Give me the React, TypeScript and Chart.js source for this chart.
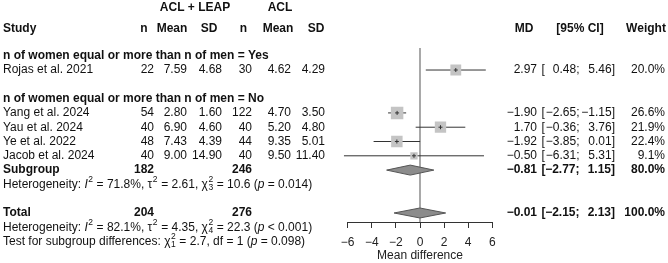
import React, { useEffect, useRef } from "react";
import { Chart, registerables } from "chart.js";

Chart.register(...registerables);

// Individual studies
const studies = ["Rojas et al. 2021", "Yang et al. 2024", "Yau et al. 2024", "Ye et al. 2022", "Jacob et al. 2024"];
const studyRows = [0, 3, 4, 5, 6];
const nExp = [22, 54, 40, 48, 40];
const meanExp = [7.59, 2.8, 6.9, 7.43, 9.0];
const sdExp = [4.68, 1.6, 4.6, 4.39, 14.9];
const nCtl = [30, 122, 40, 44, 40];
const meanCtl = [4.62, 4.7, 5.2, 9.35, 9.5];
const sdCtl = [4.29, 3.5, 4.8, 5.01, 11.4];
const md = [2.97, -1.9, 1.7, -1.92, -0.5];
const ciLow = [0.48, -2.65, -0.36, -3.85, -6.31];
const ciHigh = [5.46, -1.15, 3.76, 0.01, 5.31];
const weights = [20.0, 26.6, 21.9, 22.4, 9.1];

// Pooled estimates (subgroup "No" and overall)
const pooledLabels = ["Subgroup", "Total"];
const pooledRows = [7, 10];
const pooledN1 = [182, 204];
const pooledN2 = [246, 276];
const pooledMD = [-0.81, -0.01];
const pooledLow = [-2.77, -2.15];
const pooledHigh = [1.15, 2.13];
const pooledW = [80.0, 100.0];

// Subgroup headings
const groupLabels = ["n of women equal or more than n of men = Yes", "n of women equal or more than n of men = No"];
const groupRows = [-1, 2];

// Axis ticks
const xTicks = [-6, -4, -2, 0, 2, 4, 6];

const FONT = '"Liberation Sans", Arial, Helvetica, sans-serif';
const FS = 12;
const INK = "#111";

const minus = (s: string) => s.replace(/-/g, "\u2212");
const f2 = (v: number) => minus(v.toFixed(2));

type Seg = { t?: string; it?: boolean; sup?: string; sub?: string };

const het1: Seg[] = [
  { t: "Heterogeneity: " },
  { t: "I", it: true, sup: "2" },
  { t: " = 71.8%, \u03c4", sup: "2" },
  { t: " = 2.61, \u03c7", sup: "2", sub: "3" },
  { t: " = 10.6 (" },
  { t: "p", it: true },
  { t: " = 0.014)" },
];
const het2: Seg[] = [
  { t: "Heterogeneity: " },
  { t: "I", it: true, sup: "2" },
  { t: " = 82.1%, \u03c4", sup: "2" },
  { t: " = 4.35, \u03c7", sup: "2", sub: "4" },
  { t: " = 22.3 (" },
  { t: "p", it: true },
  { t: " < 0.001)" },
];
const testSub: Seg[] = [
  { t: "Test for subgroup differences: \u03c7", sup: "2", sub: "1" },
  { t: " = 2.7, df = 1 (" },
  { t: "p", it: true },
  { t: " = 0.098)" },
];

function drawRich(ctx: CanvasRenderingContext2D, segs: Seg[], x: number, y: number) {
  ctx.textAlign = "left";
  ctx.textBaseline = "middle";
  let cx = x;
  for (const s of segs) {
    if (s.t) {
      ctx.font = `${s.it ? "italic " : ""}${FS}px ${FONT}`;
      ctx.fillText(s.t, cx, y);
      cx += ctx.measureText(s.t).width;
    }
    if (s.sup || s.sub) {
      ctx.font = `8.5px ${FONT}`;
      let w = 0;
      if (s.sup) {
        ctx.fillText(s.sup, cx + 0.5, y - 4.5);
        w = Math.max(w, ctx.measureText(s.sup).width);
      }
      if (s.sub) {
        ctx.fillText(s.sub, cx + 0.5, y + 3.5);
        w = Math.max(w, ctx.measureText(s.sub).width);
      }
      cx += w + 0.8;
    }
  }
}

function text(ctx: CanvasRenderingContext2D, s: string, x: number, y: number, align: CanvasTextAlign, bold = false) {
  ctx.font = `${bold ? "bold " : ""}${FS}px ${FONT}`;
  ctx.textAlign = align;
  ctx.textBaseline = "middle";
  ctx.fillText(s, x, y);
}

// Column anchors (right edges for values)
const COL = {
  study: 3,
  n1: 154, mean1: 187, sd1: 222,
  n2: 252, mean2: 291, sd2: 325,
  md: 537, ciOpen: 541.5, ciMid: 579.5, ciClose: 615, weight: 665,
};

const forestPlugin = {
  id: "forest",
  beforeDatasetsDraw(chart: any) {
    const { ctx, chartArea } = chart;
    const x = chart.scales.x;
    const y = chart.scales.y;
    ctx.save();
    // line of no effect
    const x0 = x.getPixelForValue(0);
    ctx.strokeStyle = "#7a7a7a";
    ctx.lineWidth = 1.3;
    ctx.beginPath();
    ctx.moveTo(x0, chartArea.top);
    ctx.lineTo(x0, chartArea.bottom);
    ctx.stroke();
    // confidence intervals
    ctx.strokeStyle = "#333";
    ctx.lineWidth = 1;
    studies.forEach((_, i) => {
      const py = y.getPixelForValue(studyRows[i]);
      ctx.beginPath();
      ctx.moveTo(x.getPixelForValue(ciLow[i]), py);
      ctx.lineTo(x.getPixelForValue(ciHigh[i]), py);
      ctx.stroke();
    });
    // pooled diamonds
    pooledMD.forEach((m, i) => {
      const py = y.getPixelForValue(pooledRows[i]);
      const h = 5;
      ctx.beginPath();
      ctx.moveTo(x.getPixelForValue(pooledLow[i]), py);
      ctx.lineTo(x.getPixelForValue(m), py - h);
      ctx.lineTo(x.getPixelForValue(pooledHigh[i]), py);
      ctx.lineTo(x.getPixelForValue(m), py + h);
      ctx.closePath();
      ctx.fillStyle = "#8c8c8c";
      ctx.fill();
      ctx.strokeStyle = "#555";
      ctx.lineWidth = 1;
      ctx.stroke();
    });
    ctx.restore();
  },
  afterDatasetsDraw(chart: any) {
    const { ctx } = chart;
    const x = chart.scales.x;
    const y = chart.scales.y;
    ctx.save();
    ctx.strokeStyle = "#333";
    ctx.lineWidth = 1;
    md.forEach((m, i) => {
      const px = x.getPixelForValue(m);
      const py = y.getPixelForValue(studyRows[i]);
      ctx.beginPath();
      ctx.moveTo(px - 2, py);
      ctx.lineTo(px + 2, py);
      ctx.moveTo(px, py - 2);
      ctx.lineTo(px, py + 2);
      ctx.stroke();
    });
    ctx.restore();
  },
  afterDraw(chart: any) {
    const { ctx } = chart;
    const y = chart.scales.y;
    const row = (r: number) => y.getPixelForValue(r);
    ctx.save();
    ctx.fillStyle = INK;

    // column headings
    text(ctx, "ACL + LEAP", 195, 8, "center", true);
    text(ctx, "ACL", 280, 8, "center", true);
    const hy = 29;
    text(ctx, "Study", COL.study, hy, "left", true);
    text(ctx, "n", 144, hy, "center", true);
    text(ctx, "Mean", 172, hy, "center", true);
    text(ctx, "SD", 209, hy, "center", true);
    text(ctx, "n", 243.5, hy, "center", true);
    text(ctx, "Mean", 278, hy, "center", true);
    text(ctx, "SD", 316, hy, "center", true);
    text(ctx, "MD", 524, hy, "center", true);
    text(ctx, "[95% CI]", 580, hy, "center", true);
    text(ctx, "Weight", 646, hy, "center", true);

    // subgroup headings
    groupLabels.forEach((g, i) => text(ctx, g, COL.study, row(groupRows[i]), "left", true));

    // study rows
    studies.forEach((s, i) => {
      const py = row(studyRows[i]);
      text(ctx, s, COL.study, py, "left");
      text(ctx, String(nExp[i]), COL.n1, py, "right");
      text(ctx, meanExp[i].toFixed(2), COL.mean1, py, "right");
      text(ctx, sdExp[i].toFixed(2), COL.sd1, py, "right");
      text(ctx, String(nCtl[i]), COL.n2, py, "right");
      text(ctx, meanCtl[i].toFixed(2), COL.mean2, py, "right");
      text(ctx, sdCtl[i].toFixed(2), COL.sd2, py, "right");
      text(ctx, f2(md[i]), COL.md, py, "right");
      text(ctx, "[", COL.ciOpen, py, "left");
      text(ctx, f2(ciLow[i]) + ";", COL.ciMid, py, "right");
      text(ctx, f2(ciHigh[i]) + "]", COL.ciClose, py, "right");
      text(ctx, weights[i].toFixed(1) + "%", COL.weight, py, "right");
    });

    // pooled rows
    pooledLabels.forEach((l, i) => {
      const py = row(pooledRows[i]);
      text(ctx, l, COL.study, py, "left", true);
      text(ctx, String(pooledN1[i]), COL.n1, py, "right", true);
      text(ctx, String(pooledN2[i]), COL.n2, py, "right", true);
      text(ctx, f2(pooledMD[i]), COL.md, py, "right", true);
      text(ctx, "[", COL.ciOpen, py, "left", true);
      text(ctx, f2(pooledLow[i]) + ";", COL.ciMid, py, "right", true);
      text(ctx, f2(pooledHigh[i]) + "]", COL.ciClose, py, "right", true);
      text(ctx, pooledW[i].toFixed(1) + "%", COL.weight, py, "right", true);
    });

    drawRich(ctx, het1, COL.study, row(8));
    drawRich(ctx, het2, COL.study, row(11));
    drawRich(ctx, testSub, COL.study, row(12));
    ctx.restore();
  },
};

export default function App() {
  const ref = useRef<HTMLCanvasElement | null>(null);

  useEffect(() => {
    if (!ref.current) return;
    const chart = new Chart(ref.current, {
      type: "scatter",
      data: {
        datasets: [
          {
            data: md.map((m, i) => ({ x: m, y: studyRows[i] })),
            pointStyle: "rect",
            pointRadius: weights.map((w) => (2.42 * Math.sqrt(w)) / Math.SQRT2),
            backgroundColor: "#c4c4c4",
            borderColor: "#c4c4c4",
            borderWidth: 0,
          },
        ],
      },
      plugins: [forestPlugin],
      options: {
        responsive: false,
        animation: false,
        devicePixelRatio: 1,
        events: [],
        layout: { padding: { left: 347.7, right: 175.7, top: 48, bottom: 0 } },
        plugins: { legend: { display: false }, tooltip: { enabled: false } },
        scales: {
          x: {
            type: "linear",
            min: -6,
            max: 6,
            afterFit: (scale: any) => {
              scale.height = 41;
            },
            afterBuildTicks: (scale: any) => {
              scale.ticks = xTicks.map((v) => ({ value: v }));
            },
            ticks: {
              padding: 7,
              color: "#222",
              font: { family: FONT, size: FS },
              callback: (v: any) => minus(String(v)),
            },
            grid: { display: true, drawOnChartArea: false, drawTicks: true, tickLength: 6, color: "#333" },
            border: { display: true, color: "#333" },
            title: {
              display: true,
              text: "Mean difference",
              color: "#222",
              font: { family: FONT, size: FS },
              padding: { top: 0, bottom: 0 },
            },
          },
          y: {
            type: "linear",
            display: false,
            reverse: true,
            min: -1.54,
            max: 10.63,
          },
        },
      },
    });
    return () => chart.destroy();
  }, []);

  return (
    <div style={{ position: "absolute", left: 0, top: 0, width: 668, height: 263, background: "#fff" }}>
      <canvas ref={ref} width={668} height={263} style={{ display: "block", width: 668, height: 263 }} />
    </div>
  );
}
